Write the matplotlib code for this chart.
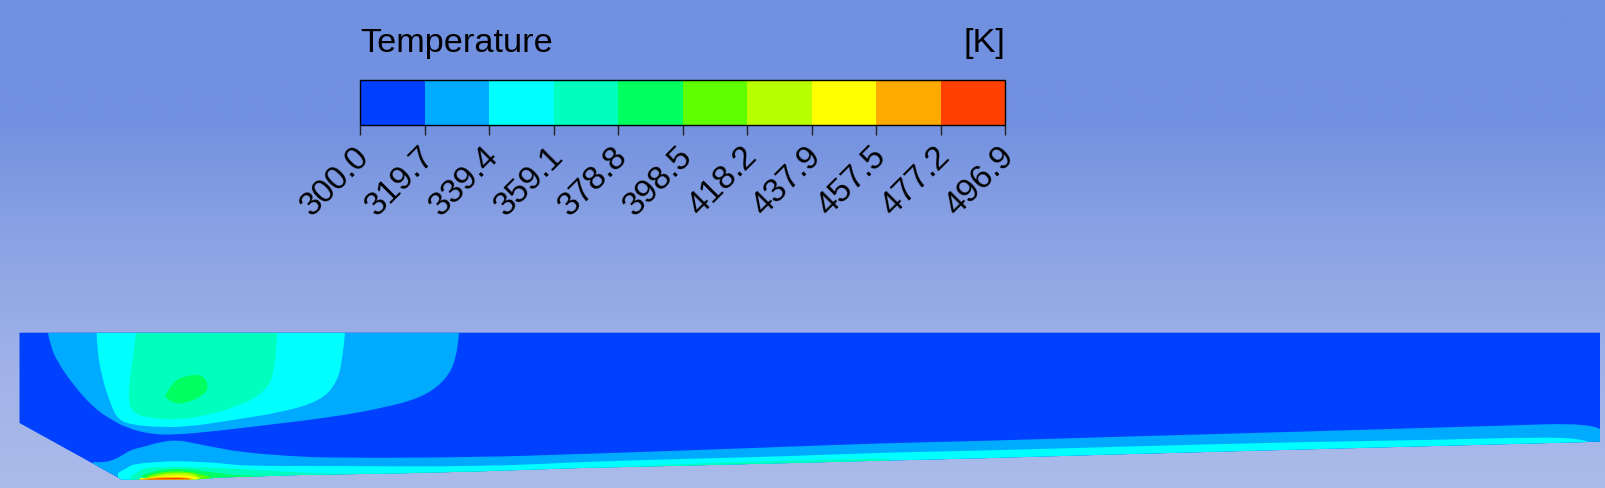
"""Temperature contour of the channel section, drawn as filled isotherm bands."""

import matplotlib
matplotlib.use("Agg")

import matplotlib.pyplot as plt
import numpy as np
from matplotlib.cm import ScalarMappable
from matplotlib.colors import BoundaryNorm, ListedColormap, LinearSegmentedColormap
from matplotlib.patches import PathPatch, Polygon
from matplotlib.path import Path
from matplotlib.transforms import ScaledTranslation

plt.rcParams["font.family"] = ["Liberation Sans", "DejaVu Sans"]

W, H = 1606, 488

temperature_ticks = [300.0, 319.7, 339.4, 359.1, 378.8, 398.5, 418.2, 437.9, 457.5, 477.2, 496.9]
band_colors = ["#0040ff", "#00aaff", "#00ffff", "#00ffbf", "#00ff60",
               "#60ff00", "#b8ff00", "#ffff00", "#ffaa00", "#ff4000"]
background_stops = ["#7090e0", "#7391e0", "#8ca4e4", "#a0b2e8", "#aabbea"]

# section outline, image coordinates
domain_x = [19.5, 19.5, 122, 197, 220, 300, 400, 480, 580, 680, 780, 880, 980, 1120, 1300, 1600, 1600]
domain_y = [332.7, 423, 479.7, 479.3, 477.5, 475, 473.3, 471.3, 468, 465.7, 463.3, 460.7, 458.3, 454.3, 449.5, 441.7, 332.7]

# isotherms of the upper plume
plume1_x = [48, 50, 58, 75, 93, 110, 127, 150, 173, 217, 267, 333, 383, 420, 443, 457, 459]
plume1_y = [332.7, 345, 363, 387, 407, 419, 428, 434, 435, 431, 425, 417, 408, 398, 383, 360, 332.7]
plume2_x = [96.7, 97, 102, 110, 118, 133, 157, 187, 233, 283, 320, 337, 343, 345]
plume2_y = [332.7, 350, 377, 403, 420, 425, 427, 427, 420, 412, 401, 383, 357, 332.7]
plume3_x = [136, 134, 130, 128, 134, 150, 173, 200, 233, 262, 276, 277]
plume3_y = [332.7, 350, 377, 402, 414, 418, 420, 417, 408, 395, 373, 332.7]
plume4_x = [165, 172, 187, 204, 209, 202, 187, 172, 165]
plume4_y = [396, 382, 375, 375, 388, 396, 403, 404, 396]

# isotherms of the heated lower wall, each one closed along the wall below it
wall1_x = [93, 105, 120, 130, 143, 160, 177, 193, 213, 240, 287, 333, 480, 580, 680, 780, 880, 980,
           1120, 1300, 1500, 1590, 1600]
wall1_y = [462, 463, 457, 450, 447, 442, 440, 443, 447, 452, 456, 458, 457.3, 454, 450.7, 447, 443.3, 441,
           436.7, 431.7, 425.7, 423, 429]
wall2_x = [118, 127, 133, 157, 177, 200, 220, 243, 333, 480, 580, 680, 780, 880, 980, 1120, 1300, 1433, 1543, 1583, 1588]
wall2_y = [473, 468, 464, 462, 461, 462, 463, 466, 466, 466.7, 462, 459, 456.5, 452.7, 450.7, 446.7, 442, 440, 437, 439, 442]
wall3_x = [130, 137, 143, 163, 190, 220, 260, 340, 620, 680, 780, 880, 890]
wall3_y = [477, 472, 468, 467, 467, 468, 470, 475, 467, 464, 461, 458.5, 459]
wall4_x = [142, 150, 167, 190, 207, 220, 237, 293]
wall4_y = [475, 472, 469, 469, 472, 473, 476, 476]
wall5_x = [147, 157, 173, 190, 200, 210]
wall5_y = [476, 473, 471, 472, 474, 477]
wall6_x = [150, 160, 177, 190, 198, 200]
wall6_y = [477, 474, 473, 473, 476, 478]
wall7_x = [140, 150, 162, 180, 193, 198]
wall7_y = [478, 478, 476, 475, 476, 478]
wall8_x = [135, 147, 163, 188, 193]
wall8_y = [480, 478, 477, 477, 479]
wall9_x = [142, 150, 163, 187, 190]
wall9_y = [480, 479, 478, 478, 479]

plume_bands = [(plume1_x, plume1_y, 1), (plume2_x, plume2_y, 2), (plume3_x, plume3_y, 3), (plume4_x, plume4_y, 4)]
wall_bands = [(wall1_x, wall1_y, 1), (wall2_x, wall2_y, 2), (wall3_x, wall3_y, 3), (wall4_x, wall4_y, 4),
              (wall5_x, wall5_y, 5), (wall6_x, wall6_y, 6), (wall7_x, wall7_y, 7), (wall8_x, wall8_y, 8),
              (wall9_x, wall9_y, 9)]


def curve_path(xs, ys, tail=()):
    # quadratic curves through the midpoints, straight closing segments after
    pts = list(zip(xs, ys))
    verts = [pts[0]]
    codes = [Path.MOVETO]
    for i in range(1, len(pts) - 1):
        end = pts[i + 1] if i == len(pts) - 2 else ((pts[i][0] + pts[i + 1][0]) / 2, (pts[i][1] + pts[i + 1][1]) / 2)
        verts += [pts[i], end]
        codes += [Path.CURVE3, Path.CURVE3]
    for p in tail:
        verts.append(p)
        codes.append(Path.LINETO)
    verts.append(pts[0])
    codes.append(Path.CLOSEPOLY)
    return Path(verts, codes)


fig = plt.figure(figsize=(W / 100, H / 100), dpi=100)
ax = fig.add_axes([0, 0, 1, 1])
ax.axis("off")

# background gradient
grad = np.linspace(0, 1, 256).reshape(-1, 1)
bg_cmap = LinearSegmentedColormap.from_list("bg", background_stops)
ax.imshow(grad, cmap=bg_cmap, aspect="auto", extent=[0, W, H, 0], interpolation="bilinear")

# section
domain = Polygon(np.column_stack([domain_x, domain_y]), closed=True,
                 facecolor=band_colors[0], edgecolor="none", zorder=2)
ax.add_patch(domain)

for xs, ys, level in plume_bands:
    patch = PathPatch(curve_path(xs, ys), facecolor=band_colors[level], edgecolor="none", zorder=3)
    ax.add_patch(patch)
    patch.set_clip_path(domain)

for xs, ys, level in wall_bands:
    # close the isotherm below the wall, the section outline trims it
    patch = PathPatch(curve_path(xs, ys, tail=[(xs[-1], H), (xs[0], H)]),
                      facecolor=band_colors[level], edgecolor="none", zorder=4)
    ax.add_patch(patch)
    patch.set_clip_path(domain)

ax.set_xlim(0, W)
ax.set_ylim(H, 0)

# legend bar
cax = fig.add_axes([360.5 / W, 1 - 125 / H, 644.8 / W, 45 / H])
norm = BoundaryNorm(temperature_ticks, len(band_colors))
cbar = fig.colorbar(ScalarMappable(norm=norm, cmap=ListedColormap(band_colors)), cax=cax,
                    orientation="horizontal", spacing="uniform", ticks=temperature_ticks)
cbar.outline.set_edgecolor("black")
cbar.outline.set_linewidth(1.0)
cbar.ax.minorticks_off()
cbar.ax.tick_params(axis="x", length=7, width=1, color="#202020", pad=3)
cbar.ax.set_xticklabels([f"{t:.1f}" for t in temperature_ticks], rotation=45, ha="right",
                        rotation_mode="anchor", fontsize=24, color="black")
shift = ScaledTranslation(-6.5 / 100, -2 / 100, fig.dpi_scale_trans)
for label in cbar.ax.get_xticklabels():
    label.set_transform(label.get_transform() + shift)

ax.text(360.5, 52, "Temperature", fontsize=24.7, color="black", ha="left", va="baseline", zorder=5)
ax.text(1005.5, 52, "[K]", fontsize=24.7, color="black", ha="right", va="baseline", zorder=5)

fig.savefig("out.png", dpi=100)
